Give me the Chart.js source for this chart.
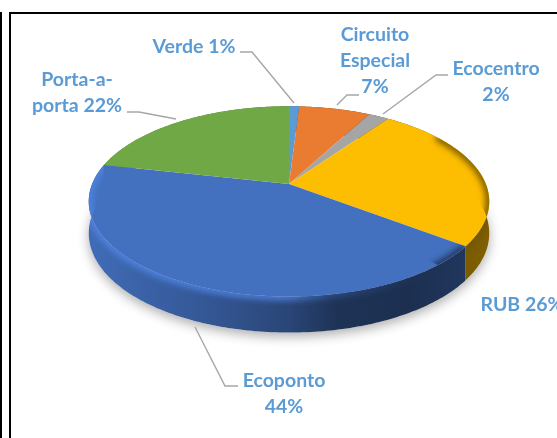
<!DOCTYPE html>
<html>
<head>
<meta charset="utf-8">
<title>Recolha</title>
<script src="https://cdn.jsdelivr.net/npm/chart.js@4"></script>
<style>
  body { margin: 0; background: #fff; overflow: hidden; }
  #wrap { position: relative; width: 557px; height: 438px; }
  canvas { position: absolute; left: 0; top: 0; }
  .line { position: absolute; background: #000; }
</style>
</head>
<body>
<div id="wrap">
  <canvas id="pie" width="557" height="438"></canvas>
  <div class="line" style="left:0;top:12px;width:2px;height:426px"></div>
  <div class="line" style="left:9px;top:12px;width:2px;height:426px"></div>
  <div class="line" style="left:9px;top:12px;width:548px;height:2px"></div>
</div>
<script>
const categories = ['Verde', 'Circuito Especial', 'Ecocentro', 'RUB', 'Ecoponto', 'Porta-a-porta'];
const shares = [1, 7, 2, 26, 44, 22];
const colors = ['#5B9BD5', '#E97C30', '#A5A5A5', '#FDBD00', '#4371C0', '#6FA844'];

// text lines, where they sit and their leader line
const labelLines = [
  ['Verde 1%'],
  ['Circuito', 'Especial', '7%'],
  ['Ecocentro', '2%'],
  ['RUB 26%'],
  ['Ecoponto', '44%'],
  ['Porta-a-', 'porta 22%']
];
const labelPos = [[194, 47], [375, 35], [496, 69], [522, 305], [284, 381], [77, 80]];
const leaders = [
  [[240, 52], [252, 52], [294, 103]],
  [[359, 95], [347, 95], [337, 105]],
  [[448, 75], [436, 75], [383, 114]],
  [],
  [[238, 386], [225, 386], [195, 327]],
  [[127, 112], [139, 112], [176, 119]]
];

// perspective of the tilted disc
const widen = 1.07, flatten = 0.5, persp = 0.183;

function project(arc, angle, drop) {
  const a = arc.outerRadius * widen, b = arc.outerRadius * flatten;
  const s = Math.sin(angle), w = 1 - persp * s;
  const d = drop ? 31 + 5 * s : 0;
  return [arc.x + a * Math.cos(angle) / w, arc.y + b * s / w + d];
}

function rimPath(ctx, arc, from, to, drop, first) {
  const n = Math.max(4, Math.ceil(Math.abs(to - from) * 60));
  for (let i = 0; i <= n; i++) {
    const p = project(arc, from + (to - from) * i / n, drop);
    if (i === 0 && first) ctx.moveTo(p[0], p[1]);
    else ctx.lineTo(p[0], p[1]);
  }
}

function shade(hex, f) {
  const n = parseInt(hex.slice(1), 16);
  const c = [n >> 16, (n >> 8) & 255, n & 255].map(v => Math.min(255, Math.round(v * f)));
  return 'rgb(' + c.join(',') + ')';
}

function sweep(ctx, arc, color, stops) {
  const a = arc.outerRadius * widen;
  const g = ctx.createLinearGradient(arc.x - a, 0, arc.x + a, 0);
  stops.forEach(s => g.addColorStop(s[0], shade(color, s[1])));
  return g;
}

const disc3d = {
  id: 'disc3d',
  beforeDatasetDraw(chart) {
    const ctx = chart.ctx;
    const arcs = chart.getDatasetMeta(0).data;
    const base = arcs[0];
    const full = Math.PI * 2;

    // soft shadow under the whole disc
    ctx.save();
    ctx.shadowColor = 'rgba(0,0,0,0.32)';
    ctx.shadowBlur = 12;
    ctx.shadowOffsetY = 4;
    ctx.fillStyle = '#fff';
    ctx.beginPath();
    rimPath(ctx, base, 0, full, true, true);
    ctx.closePath();
    ctx.fill();
    ctx.restore();

    // side wall
    arcs.forEach((arc, i) => {
      ctx.fillStyle = sweep(ctx, base, colors[i], [[0, 0.95], [0.25, 0.8], [0.5, 0.62], [0.62, 0.45], [0.8, 0.42], [1, 0.5]]);
      ctx.beginPath();
      rimPath(ctx, base, arc.startAngle, arc.endAngle, false, true);
      rimPath(ctx, base, arc.endAngle, arc.startAngle, true, false);
      ctx.closePath();
      ctx.fill();
    });

    // top face
    arcs.forEach((arc, i) => {
      ctx.fillStyle = colors[i];
      ctx.beginPath();
      ctx.moveTo(arc.x, arc.y);
      rimPath(ctx, arc, arc.startAngle, arc.endAngle, false, false);
      ctx.closePath();
      ctx.fill();
    });

    // bevel along the rim of the big front slices
    ctx.save();
    ctx.beginPath();
    rimPath(ctx, base, 0, full, false, true);
    ctx.closePath();
    rimPath(ctx, base, 0, full, true, true);
    ctx.closePath();
    ctx.clip();
    arcs.forEach((arc, i) => {
      const mid = (arc.startAngle + arc.endAngle) / 2;
      if (Math.sin(mid) < -0.5) return;
      ctx.save();
      ctx.beginPath();
      ctx.moveTo(arc.x, arc.y);
      rimPath(ctx, arc, arc.startAngle, arc.endAngle, false, false);
      rimPath(ctx, arc, arc.endAngle, arc.startAngle, true, false);
      ctx.closePath();
      ctx.clip();
      ctx.filter = 'blur(3px)';
      ctx.lineWidth = 7;
      ctx.strokeStyle = sweep(ctx, base, colors[i], [[0, 1.18], [0.5, 1.15], [0.6, 0.7], [0.8, 0.45], [1, 0.45]]);
      ctx.beginPath();
      // no fringe on the far part of the rim
      rimPath(ctx, arc, Math.max(arc.startAngle, -0.6), arc.endAngle, false, true);
      ctx.stroke();
      ctx.restore();
    });
    ctx.restore();
    return false;
  },
  afterDraw(chart) {
    const ctx = chart.ctx;
    ctx.save();
    ctx.strokeStyle = '#A6A6A6';
    ctx.lineWidth = 1.4;
    leaders.forEach(pts => {
      if (!pts.length) return;
      ctx.beginPath();
      pts.forEach((p, i) => (i ? ctx.lineTo(p[0], p[1]) : ctx.moveTo(p[0], p[1])));
      ctx.stroke();
    });
    ctx.fillStyle = '#5B9BD5';
    ctx.font = 'bold 19.5px Lato';
    ctx.textAlign = 'center';
    ctx.textBaseline = 'middle';
    labelLines.forEach((lines, i) => {
      lines.forEach((txt, j) => ctx.fillText(txt, labelPos[i][0], labelPos[i][1] + j * 26));
    });
    ctx.restore();
  }
};

new Chart(document.getElementById('pie'), {
  type: 'pie',
  data: {
    labels: categories,
    datasets: [{ data: shares, backgroundColor: colors, borderWidth: 0 }]
  },
  options: {
    responsive: false,
    animation: false,
    layout: { padding: { left: 92, right: 71, top: 0, bottom: 70 } },
    plugins: { legend: { display: false }, tooltip: { enabled: false } }
  },
  plugins: [disc3d]
});
</script>
</body>
</html>
